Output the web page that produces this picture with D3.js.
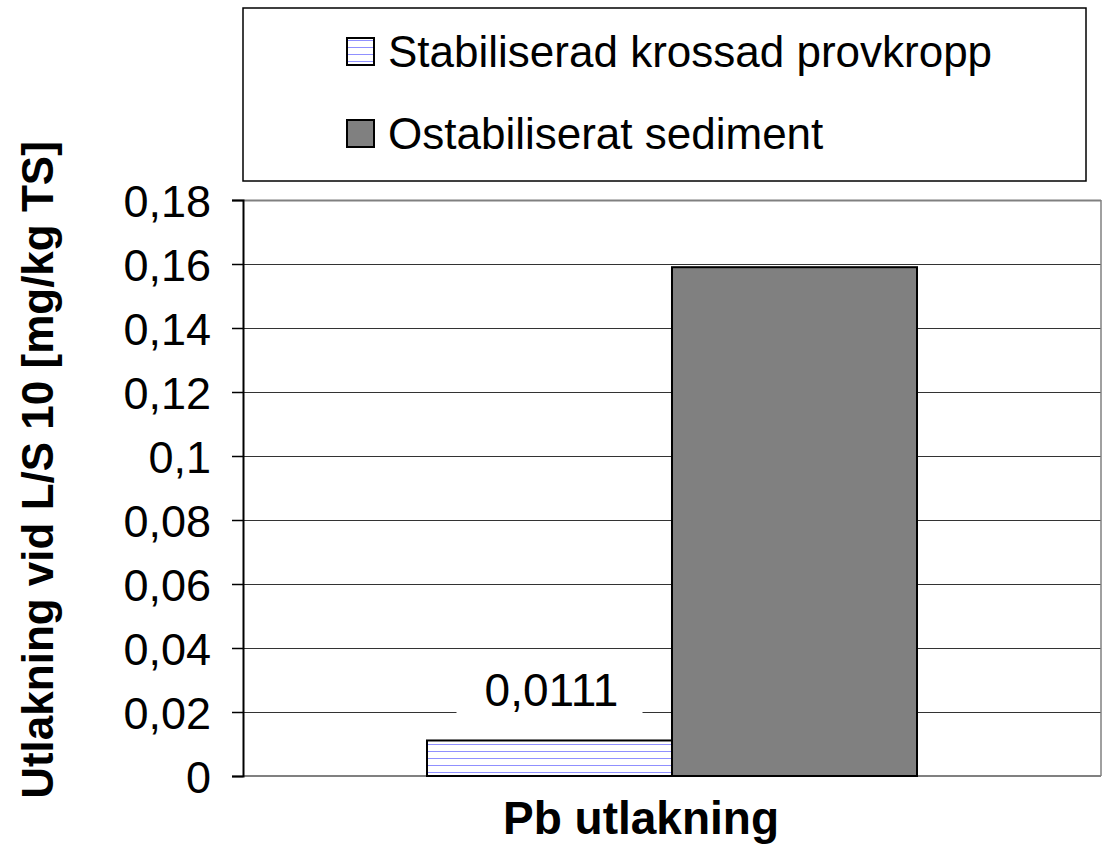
<!DOCTYPE html>
<html>
<head>
<meta charset="utf-8">
<script src="https://cdn.jsdelivr.net/npm/d3@7"></script>
<style>
  body { margin: 0; background: #fff; }
  text { font-family: "Liberation Sans", Arial, sans-serif; }
</style>
</head>
<body>
<script>
// data
var categories = ["Pb utlakning"];
var seriesNames = ["Stabiliserad krossad provkropp", "Ostabiliserat sediment"];
var seriesValues = [0.0111, 0.159];
var labelTexts = ["0,0111", null];
var yTicks = [0, 0.02, 0.04, 0.06, 0.08, 0.1, 0.12, 0.14, 0.16, 0.18];

var W = 1102, H = 846;
var margin = {top: 200, right: 1, bottom: 70, left: 243},
    width = W - margin.left - margin.right,
    height = H - margin.top - margin.bottom;

var svg = d3.select("body").append("svg")
    .attr("width", W).attr("height", H);

// hatch for the first series
var defs = svg.append("defs");
var pat = defs.append("pattern")
    .attr("id", "hatch")
    .attr("patternUnits", "userSpaceOnUse")
    .attr("width", 8).attr("height", 7);
pat.append("rect").attr("width", 8).attr("height", 7).attr("fill", "#fff");
pat.append("line").attr("x1", 0).attr("x2", 8).attr("y1", 5.5).attr("y2", 5.5)
    .attr("stroke", "#9090ff").attr("stroke-width", 1);

var fills = ["url(#hatch)", "#808080"];

var g = svg.append("g")
    .attr("transform", "translate(" + margin.left + "," + margin.top + ")");

var x0 = d3.scaleBand().domain(categories).range([0, width]).paddingInner(0).paddingOuter(0);
var x1 = d3.scaleBand().domain(seriesNames).range([184, 674]);
var y = d3.scaleLinear().domain([0, 0.18]).range([height, 0]);

var fmt = function(d) { return String(d).replace(".", ","); };

// gridlines
g.selectAll(".grid").data(yTicks.slice(1)).enter().append("line")
    .attr("x1", 0).attr("x2", width)
    .attr("y1", d => Math.round(y(d)) + 0.5).attr("y2", d => Math.round(y(d)) + 0.5)
    .attr("stroke", d => d === 0.18 ? "#808080" : "#333")
    .attr("stroke-width", d => d === 0.18 ? 2 : 1);

// plot border (right, bottom)
g.append("line").attr("x1", width).attr("x2", width).attr("y1", 0).attr("y2", height)
    .attr("stroke", "#808080").attr("stroke-width", 1.5);
g.append("line").attr("x1", 0).attr("x2", width).attr("y1", height).attr("y2", height)
    .attr("stroke", "#808080").attr("stroke-width", 2);

// bars
g.selectAll(".bar").data(seriesValues).enter().append("rect")
    .attr("x", (d, i) => x0(categories[0]) + x1(seriesNames[i]))
    .attr("y", d => y(d))
    .attr("width", x1.bandwidth())
    .attr("height", d => height - y(d))
    .attr("fill", (d, i) => fills[i])
    .attr("stroke", "#000").attr("stroke-width", 2);

// data label with white background
labelTexts.forEach(function(t, i) {
  if (!t) return;
  var cx = x0(categories[0]) + x1(seriesNames[i]) + x1.bandwidth() / 2;
  var ly = y(seriesValues[i]) - 50;
  g.append("rect").attr("x", cx - 93).attr("y", ly - 26).attr("width", 186).attr("height", 50)
      .attr("fill", "#fff");
  g.append("text").attr("x", cx + 2).attr("y", ly + 16)
      .attr("text-anchor", "middle").attr("font-size", 46).text(t);
});

// y axis
var yAxis = g.append("g").call(d3.axisLeft(y).tickValues(yTicks).tickFormat(fmt).tickSize(11).tickPadding(21));
yAxis.select(".domain").attr("stroke", "#000").attr("stroke-width", 2);
yAxis.selectAll(".tick line").attr("stroke", "#000").attr("stroke-width", 1.5);
yAxis.selectAll(".tick text").attr("font-size", 45).attr("fill", "#000")
    .attr("font-family", "Liberation Sans, Arial, sans-serif").attr("dy", "0.36em");

// axis titles
svg.append("text").attr("x", 641).attr("y", 834)
    .attr("text-anchor", "middle").attr("font-size", 46).attr("font-weight", "bold")
    .text(categories[0]);
svg.append("text").attr("transform", "translate(53,470) rotate(-90)")
    .attr("text-anchor", "middle").attr("font-size", 44).attr("font-weight", "bold")
    .text("Utlakning vid L/S 10 [mg/kg TS]");

// legend
var leg = svg.append("g");
leg.append("rect").attr("x", 243).attr("y", 8).attr("width", 843).attr("height", 173)
    .attr("fill", "#fff").attr("stroke", "#000").attr("stroke-width", 1.5);
seriesNames.forEach(function(n, i) {
  var ly = 38 + i * 82;
  leg.append("rect").attr("x", 347).attr("y", ly).attr("width", 27).attr("height", 27)
      .attr("fill", fills[i]).attr("stroke", "#000").attr("stroke-width", 2);
  leg.append("text").attr("x", 388).attr("y", ly + 29).attr("font-size", 44).text(n);
});
</script>
</body>
</html>
